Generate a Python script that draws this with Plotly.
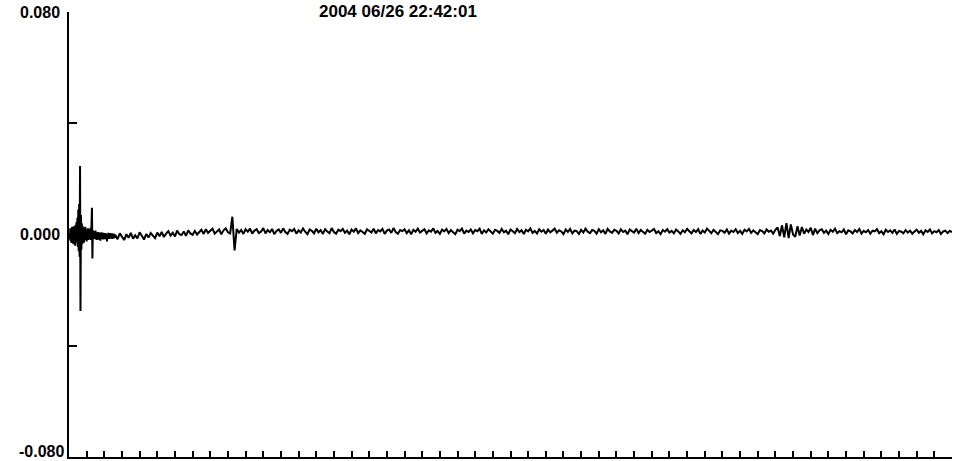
import numpy as np
import plotly.graph_objects as go

# Record start time shown above the trace
record_label = "2004 06/26 22:42:01"

# Amplitude axis ticks; the bottom label is drawn separately so it stays on the page
y_tick_vals = [-0.08, -0.04, 0.0, 0.04, 0.08]
y_tick_text = ["", "", "0.000", "", "0.080"]
y_bottom_label = "-0.080"

# Time axis extent (one tick per unit)
t_min, t_max = 0, 50

# Onset window: samples every 0.025 from 0.025 to 2.6, amplitude in 1e-4 units
onset_t = np.round(np.arange(0.025, 2.6001, 0.025), 4)
onset_amp_e4 = [
    5, -18, 22, -25, 15, -30, 28, -12, 20, -35,
    30, -22, 25, -40, 35, -20, 45, -30, 60, -45,
    90, -60, 110, -80, 246, -275, 70, -55, 40, -35,
    30, -28, 25, -30, 22, -20, 28, -18, 20, -25,
    18, -15, 22, -20, 15, -18, 20, -12, 25, -20,
    40, 96, -86, 15, -14, 12, -16, 10, -15, 14,
    -18, 8, -20, 6, -17, 9, -19, 4, -15, 7,
    -22, 3, -16, 8, -14, 2, -18, 6, -13, 4,
    -17, 5, -12, 3, -15, -25, 2, -14, 6, -16,
    1, -13, 5, -15, 3, -12, 4, -16, 2, -11,
    3, -14, 1, -12,
]

# Coda: samples every 0.125 from 2.625 to 50.0, amplitude in 1e-4 units
coda_t = np.round(np.arange(2.625, 50.0001, 0.125), 4)
coda_amp_e4 = [
    -2, -17, 4, -9, -20, 1, -12, 6, -15, -3, -14, 8, -6, -18, 2, -11, 5, -4, -13, 7,
    -6, 9, -9, 3, 12, -4, 6, -7, 14, 1, -2, 11, -5, 15, 4, -1, 13, 0, 9, 17,
    2, 19, 6, 14, 21, 3, 12, 18, 1, 15, 22, 8, 4, 64, -57, 20, 7, 16, 2, 19,
    10, 21, 3, 14, 19, 5, 11, 23, 4, 16, 8, 20, 1, 13, 18, 6, 22, 9, 2, 17,
    12, 20, 3, 15, 7, 22, 10, 1, 18, 13, 4, 21, 8, 16, 2, 19, 11, 5, 23, 9,
    3, 17, 12, 20, 6, 14, 1, 18, 10, 22, 5, 15, 9, 2, 19, 13, 7, 21, 4, 16,
    11, 20, 2, 14, 18, 6, 23, 9, 3, 16, 12, 19, 5, 15, 1, 17, 10, 21, 7, 13,
    19, 4, 15, 10, 22, 6, 13, 2, 18, 11, 20, 5, 16, 8, 1, 17, 12, 21, 3, 14,
    9, 18, 4, 16, 12, 21, 2, 15, 7, 19, 11, 3, 17, 13, 6, 20, 8, 14, 1, 18,
    12, 5, 20, 9, 15, 2, 17, 11, 22, 6, 13, 4, 19, 10, 16, 3, 18, 8, 14, 21,
    6, 15, 11, 1, 18, 9, 20, 4, 14, 12, 2, 17, 7, 21, 10, 5, 16, 13, 3, 19,
    8, 15, 2, 20, 11, 6, 17, 13, 4, 19, 9, 14, 1, 18, 12, 7, 21, 5, 16, 10,
    3, 17, 9, 14, 20, 5, 12, 1, 16, 10, 19, 7, 13, 4, 18, 11, 2, 15, 8, 20,
    12, 4, 16, 9, 19, 2, 14, 7, 21, 11, 5, 17, 10, 1, 15, 13, 6, 18, 3, 14,
    9, 19, 5, 13, 2, 17, 11, 20, 6, 15, 8, 1, 16, 12, 4, 18, 10, 14, 3, 17,
    25, -6, 33, -10, 41, -13, 36, 0, -8, 30, -4, 27, 3, 18, 9, 24, -2, 21, 5, 15,
    19, 6, 14, 2, 17, 10, 21, 5, 12, 8, 18, 1, 15, 11, 4, 16, 9, 20, 3, 13,
    8, 16, 3, 14, 11, 19, 5, 12, 1, 17, 9, 15, 6, 18, 2, 13, 10, 4, 16, 7,
    14, 3, 11, 17, 6, 13, 1, 15, 9, 18, 4, 12, 8, 16, 2, 11, 14, 5, 13, 8,
]

t = np.concatenate([onset_t, coda_t])
amp = np.concatenate([onset_amp_e4, coda_amp_e4]) * 1e-4

fig = go.Figure()
fig.add_trace(go.Scatter(
    x=t, y=amp, mode="lines",
    line=dict(color="black", width=2),
    hoverinfo="skip", showlegend=False,
))

label_font = dict(family="Liberation Sans, Arial, sans-serif", size=16,
                  color="black", weight="bold")

fig.update_layout(
    width=953, height=461,
    margin=dict(l=69, r=1, t=12, b=4),
    paper_bgcolor="white", plot_bgcolor="white",
    font=label_font,
    xaxis=dict(
        range=[t_min, t_max], showgrid=False, zeroline=False,
        showline=True, linecolor="black", linewidth=1.5,
        ticks="inside", ticklen=6, tickwidth=1.5, tickcolor="black",
        tick0=0, dtick=1, showticklabels=False, automargin=False,
    ),
    yaxis=dict(
        range=[-0.08, 0.08], showgrid=False, zeroline=False,
        showline=True, linecolor="black", linewidth=1.5,
        ticks="inside", ticklen=8, tickwidth=1.5, tickcolor="black",
        tickvals=y_tick_vals, ticktext=y_tick_text,
        tickfont=label_font,
        ticklabelstandoff=4, ticklabeloverflow="allow", automargin=False,
    ),
    annotations=[
        dict(
            text=record_label, xref="paper", yref="paper",
            x=0.3726, y=1.027, xanchor="center", yanchor="top",
            showarrow=False,
            font=dict(size=17, color="black", weight="bold"),
        ),
        dict(
            text=y_bottom_label, xref="paper", yref="paper",
            x=0, y=0, xanchor="right", yanchor="bottom",
            xshift=-3, yshift=-5, showarrow=False, font=label_font,
        ),
    ],
)

fig.write_html("out.html")
